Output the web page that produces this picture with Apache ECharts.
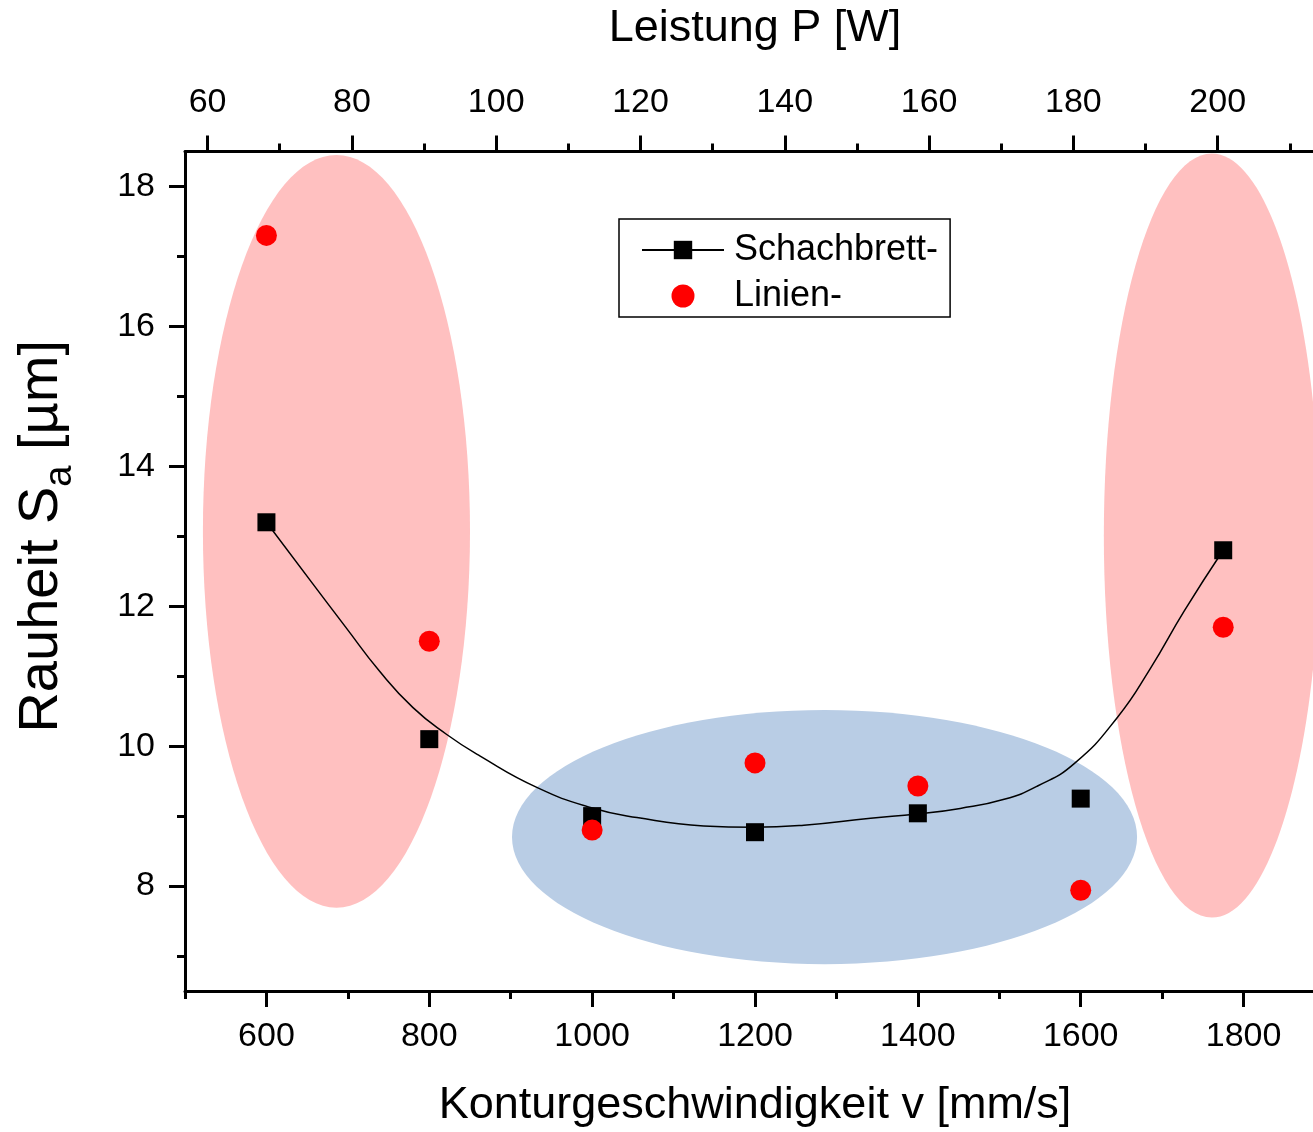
<!DOCTYPE html>
<html>
<head>
<meta charset="utf-8">
<script src="https://cdn.jsdelivr.net/npm/echarts@6/dist/echarts.min.js"></script>
<style>
  html, body { margin: 0; padding: 0; background: #fff; }
  #chart { width: 1313px; height: 1132px; }
</style>
</head>
<body>
<div id="chart"></div>
<script>
// Messpunkte, Konturgeschwindigkeit v [mm/s]
const speeds = [600, 800, 1000, 1200, 1400, 1600, 1775];
const schachbrett = [13.2, 10.1, 9.0, 8.77, 9.04, 9.25, 12.8];
const linien = [17.3, 11.5, 8.8, 9.76, 9.43, 7.94, 11.7];

// Ausgleichskurve (Schachbrett)
const fitX = [600, 657, 698, 739, 780, 821, 862, 932, 999, 1055, 1137, 1198, 1260,
  1342, 1399, 1452, 1506, 1547, 1592, 1645, 1686, 1727, 1775];
const fitY = [13.2, 12.32, 11.69, 11.07, 10.55, 10.17, 9.86, 9.41, 9.12, 8.98, 8.86, 8.84, 8.87,
  8.97, 9.03, 9.11, 9.24, 9.43, 9.75, 10.41, 11.12, 11.93, 12.8];

// Markierungen: Mittelpunkt v, Sa und Halbachsen in Achseneinheiten
const ellipses = [
  [686, 13.07, 164, 5.38],
  [1761, 13.01, 132.6, 5.46],
  [1285.4, 8.70, 383.8, 1.816]
];
const ellipseColors = ['#ffc0c0', '#ffc0c0', '#b9cde5'];

// Achsenteilung
const bottomMajor = [600, 800, 1000, 1200, 1400, 1600, 1800];
const bottomMinor = [500, 700, 900, 1100, 1300, 1500, 1700, 1900];
const topMajor = [60, 80, 100, 120, 140, 160, 180, 200];
const topMinor = [70, 90, 110, 130, 150, 170, 190, 210];
const leftMajor = [8, 10, 12, 14, 16, 18];
const leftMinor = [7, 9, 11, 13, 15, 17];

const font = 'Liberation Sans, Arial, sans-serif';

function axis(pos, min, max, ticks, len, labels, extra) {
  return Object.assign({
    type: 'value',
    position: pos,
    min: min,
    max: max,
    splitLine: { show: false },
    axisLine: { show: true, onZero: false, lineStyle: { color: '#000', width: 3 } },
    axisTick: { show: true, inside: false, length: len, customValues: ticks, lineStyle: { color: '#000', width: 3 } },
    axisLabel: labels ? {
      show: true, customValues: labels, color: '#000', fontSize: 34, fontFamily: font,
      formatter: v => String(v),
      margin: pos === 'left' ? 30 : (pos === 'top' ? 32 : 29)
    } : { show: false }
  }, extra || {});
}

const chart = echarts.init(document.getElementById('chart'));

chart.setOption({
  animation: false,
  backgroundColor: '#fff',
  grid: { left: 185, top: 151.5, width: 1140, height: 839.5, outerBoundsMode: 'none', containLabel: false },
  legend: {
    data: ['Schachbrett-', 'Linien-'],
    orient: 'vertical',
    left: 619,
    top: 219,
    padding: [13, 12, 3, 22],
    itemGap: 10,
    itemWidth: 82,
    itemHeight: 23,
    selectedMode: false,
    borderColor: '#000',
    borderWidth: 1.5,
    textStyle: { color: '#000', fontSize: 36, fontFamily: font, padding: [0, 0, 0, 5] }
  },
  xAxis: [
    axis('bottom', 500, 1900, bottomMajor, 16, bottomMajor, {
      name: 'Konturgeschwindigkeit v [mm/s]',
      nameLocation: 'middle',
      nameGap: 92,
      nameTextStyle: { color: '#000', fontSize: 45, fontFamily: font }
    }),
    axis('bottom', 500, 1900, bottomMinor, 8, null, { axisLine: { show: false } }),
    axis('top', 56.87, 214.87, topMajor, 16, topMajor, {
      name: 'Leistung P [W]',
      nameLocation: 'middle',
      nameGap: 100,
      nameTextStyle: { color: '#000', fontSize: 45, fontFamily: font }
    }),
    axis('top', 56.87, 214.87, topMinor, 8, null, { axisLine: { show: false } })
  ],
  yAxis: [
    axis('left', 6.5, 18.5, leftMajor, 16, leftMajor, {
      name: '{t|Rauheit S}{s|a}{t| [µm]}',
      nameLocation: 'middle',
      nameRotate: 90,
      nameGap: 107,
      nameTextStyle: {
        color: '#000',
        fontFamily: font,
        padding: [0, 0, 0, 70],
        rich: {
          t: { fontSize: 56, fontFamily: font, color: '#000', verticalAlign: 'top', lineHeight: 64 },
          s: { fontSize: 38, fontFamily: font, color: '#000', verticalAlign: 'top', lineHeight: 64, padding: [28, 0, 0, 0] }
        }
      }
    }),
    axis('left', 6.5, 18.5, leftMinor, 8, null, { axisLine: { show: false } })
  ],
  series: [
    {
      type: 'custom',
      name: 'Bereiche',
      xAxisIndex: 0,
      yAxisIndex: 0,
      clip: false,
      silent: true,
      encode: { x: 0, y: 1 },
      data: ellipses,
      renderItem: function (params, api) {
        const c = api.coord([api.value(0), api.value(1)]);
        const s = api.size([api.value(2), api.value(3)]);
        return {
          type: 'ellipse',
          shape: { cx: c[0], cy: c[1], rx: s[0], ry: s[1] },
          style: { fill: ellipseColors[params.dataIndex] }
        };
      }
    },
    {
      type: 'line',
      name: 'Schachbrett-',
      xAxisIndex: 0,
      yAxisIndex: 0,
      smooth: 0.5,
      showSymbol: false,
      symbol: 'rect',
      symbolSize: 18,
      itemStyle: { color: '#000' },
      lineStyle: { color: '#000', width: 1.5 },
      data: fitX.map((x, i) => [x, fitY[i]])
    },
    {
      type: 'scatter',
      name: 'Schachbrett-',
      xAxisIndex: 0,
      yAxisIndex: 0,
      symbol: 'rect',
      symbolSize: 18,
      itemStyle: { color: '#000', opacity: 1 },
      data: speeds.map((v, i) => [v, schachbrett[i]])
    },
    {
      type: 'scatter',
      name: 'Linien-',
      xAxisIndex: 0,
      yAxisIndex: 0,
      symbol: 'circle',
      symbolSize: 21,
      itemStyle: { color: '#ff0000', opacity: 1 },
      data: speeds.map((v, i) => [v, linien[i]])
    }
  ]
});
</script>
</body>
</html>
